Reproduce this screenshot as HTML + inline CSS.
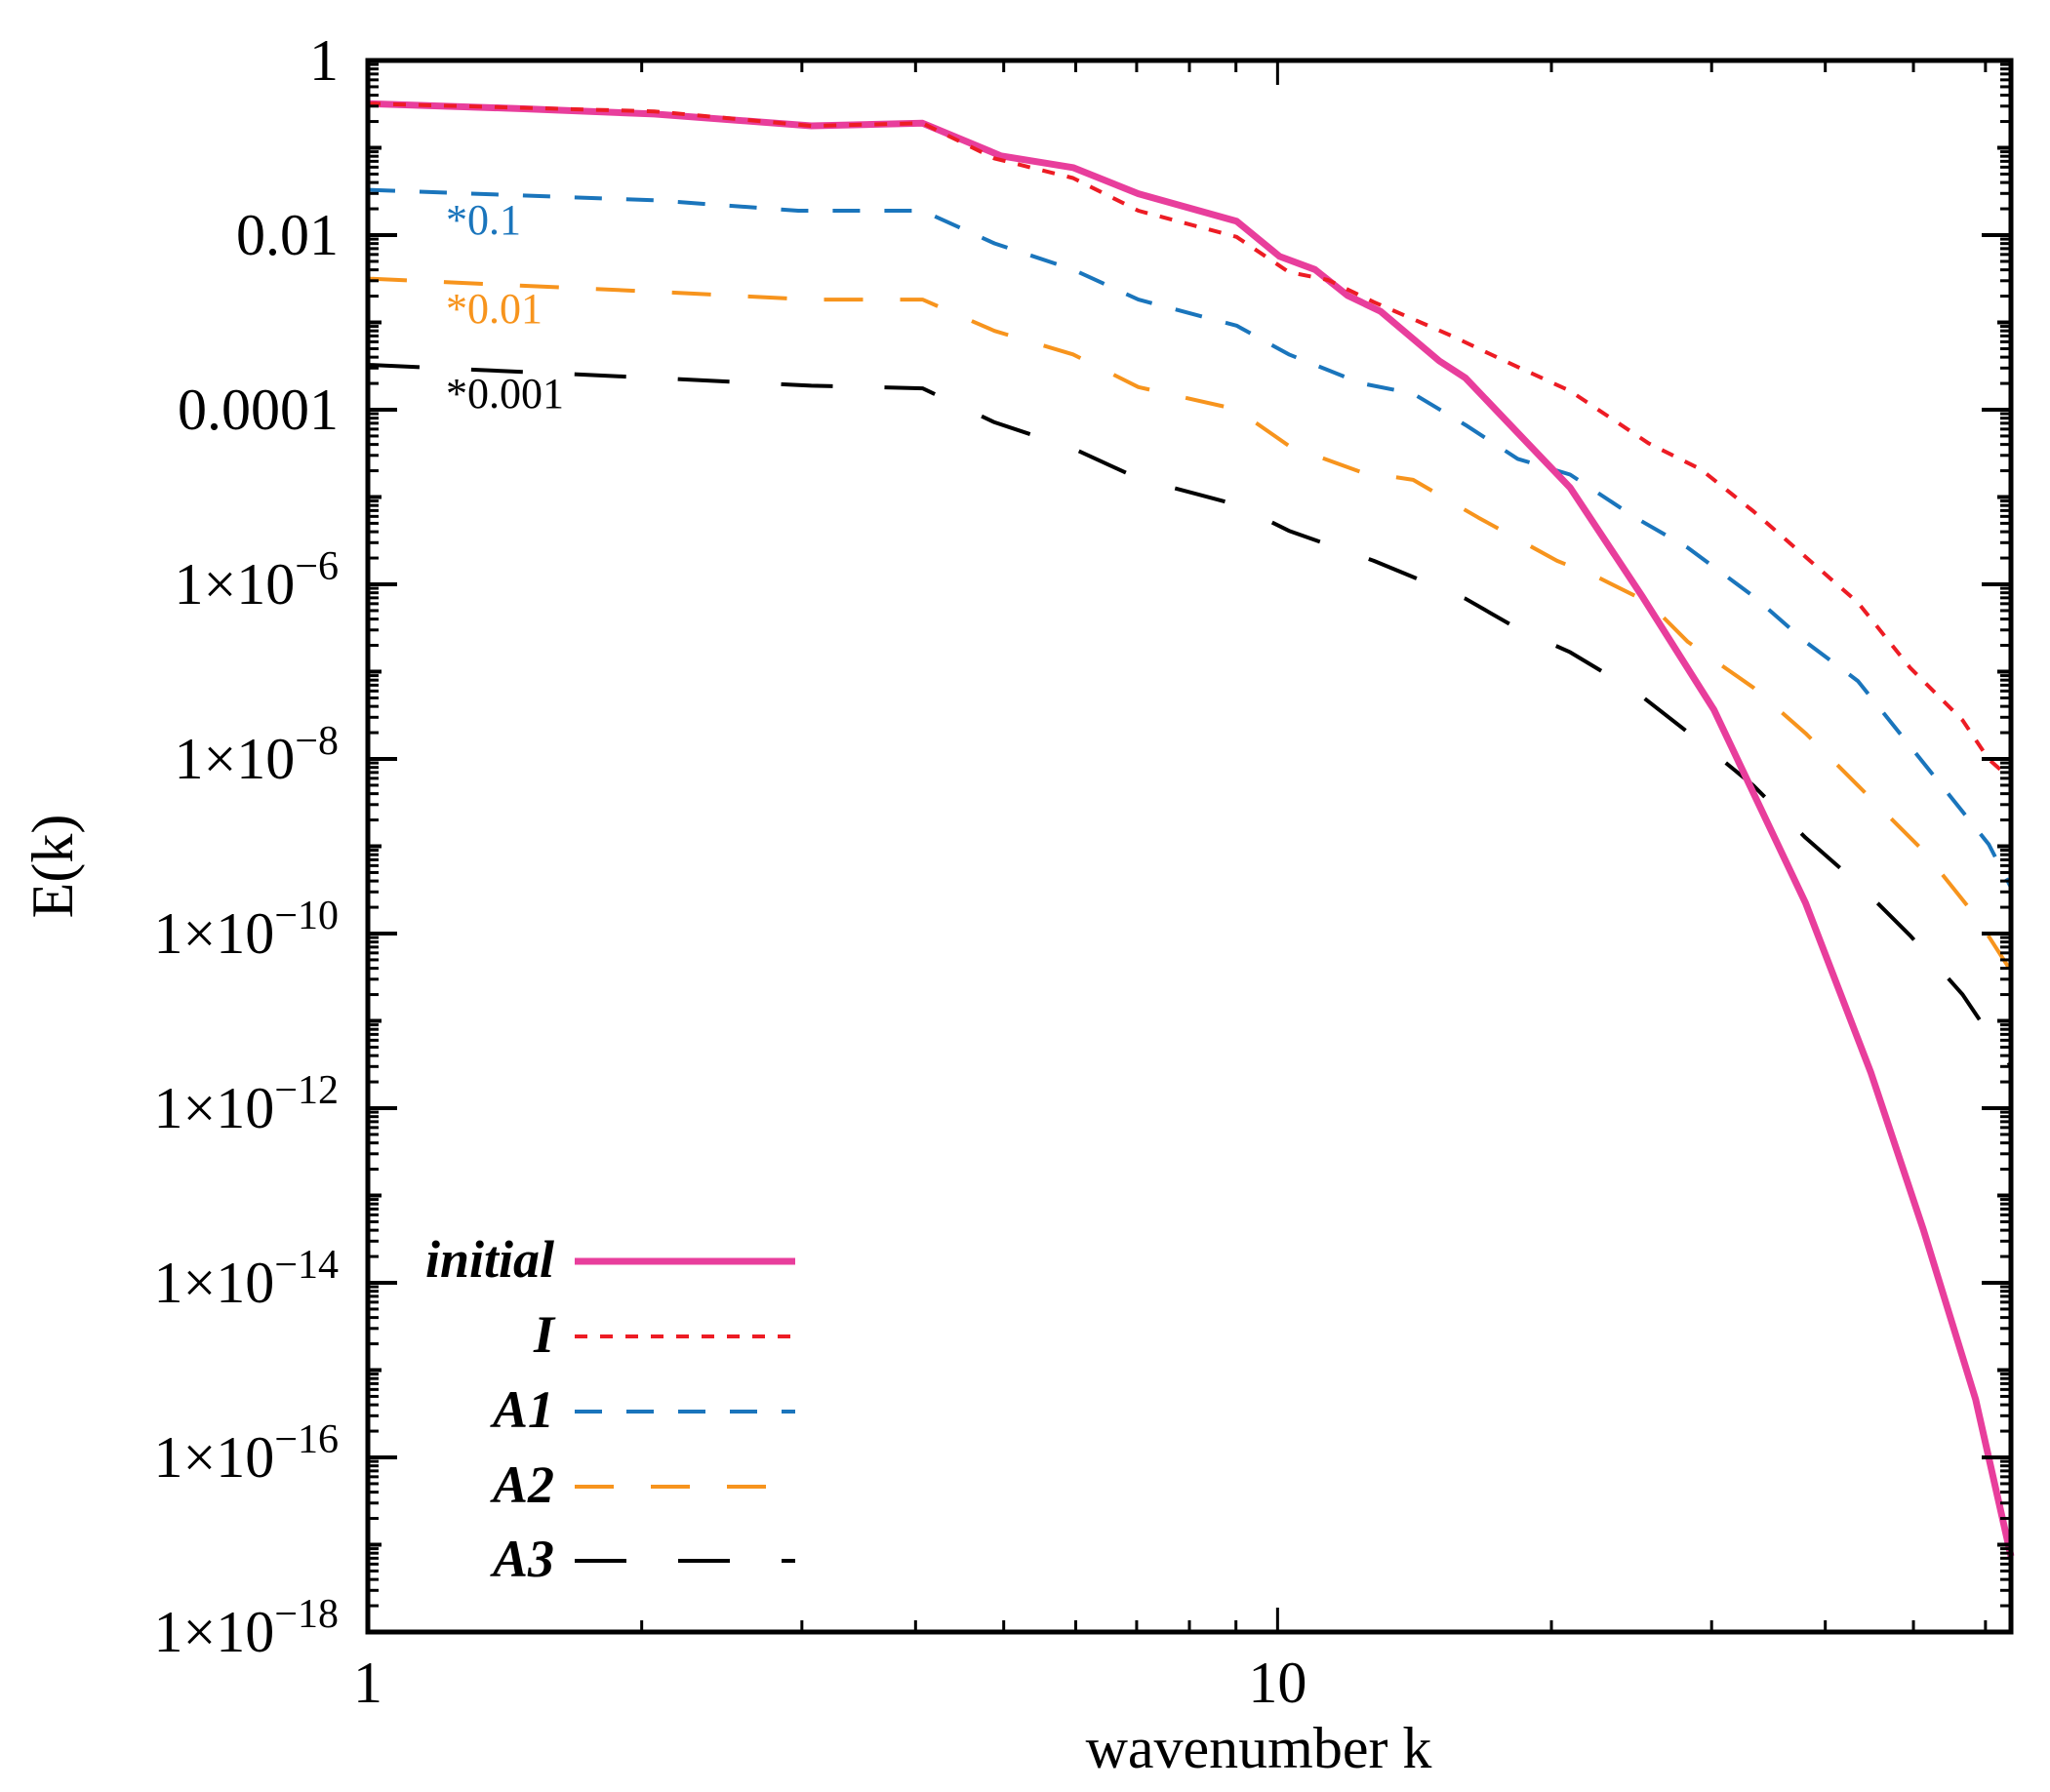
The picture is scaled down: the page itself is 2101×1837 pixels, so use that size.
<!DOCTYPE html>
<html><head><meta charset="utf-8"><style>
html,body{margin:0;padding:0;background:#fff;}
svg{display:block;font-family:"Liberation Serif",serif;}
</style></head><body>
<svg id="s" width="2101" height="1837" xmlns="http://www.w3.org/2000/svg"></svg>
<script>
const L=377,T=62,R=2061,B=1673;
const dec=(B-T)/18, kdec=(R-L)/Math.log10(64);
function X(xd){return L+(xd-281)*(R-L)/1256;}
function Y(yd){return T+(yd-45)*(B-T)/1203;}
let h='';
function pl(pts,col,w,dash){
  h+=`<polyline fill="none" stroke="${col}" stroke-width="${w}" stroke-linejoin="round" ${dash?`stroke-dasharray="${dash}"`:''} points="${pts.map(p=>X(p[0]).toFixed(1)+','+Y(p[1]).toFixed(1)).join(' ')}"/>`;
}
const blk=[[281,278],[500,288],[620,294],[705,296],[760,322],[820,342],[870,365],[945,385],[985,405],[1050,428],[1120,457],[1160,480],[1200,498],[1250,528],[1300,567],[1340,600],[1380,640],[1420,675],[1460,715],[1500,760],[1537,815]];
const org=[[281,212],[500,222],[620,228],[705,228],[760,252],[820,270],[870,295],[945,312],[985,340],[1040,360],[1080,366],[1130,395],[1190,428],[1220,440],[1260,460],[1290,490],[1340,525],[1380,560],[1420,600],[1470,650],[1510,700],[1537,742]];
const blu=[[281,144],[500,152],[610,160],[705,160],[760,185],[820,205],[870,228],[945,248],[985,270],[1040,292],[1080,300],[1120,324],[1160,350],[1200,362],[1250,395],[1290,418],[1340,455],[1380,490],[1420,520],[1460,570],[1500,620],[1520,645],[1537,678]];
const red=[[281,78],[500,84],[620,95],[705,93],[760,120],[820,135],[870,160],[945,180],[985,207],[1015,213],[1050,230],[1110,256],[1150,275],[1200,298],[1260,338],[1300,358],[1340,390],[1380,425],[1420,460],[1460,510],[1500,550],[1520,580],[1537,595]];
const mag=[[281,78],[400,82],[500,86],[620,95],[705,93],[765,118],[820,127],[870,147],[945,168],[978,195],[1005,205],[1030,225],[1055,237],[1100,275],[1120,288],[1160,330],[1200,372],[1255,455],[1310,542],[1380,690],[1430,820],[1470,940],[1510,1070],[1537,1190]];
pl(blk,'#000',4,'53 53');
pl(org,'#f7941d',4,'40 38');
pl(blu,'#1a75bc',4,'28 25');
pl(mag,'#e83e9c',7,'');
pl(red,'#ed1c24',4,'13 13');
for(let d=0;d<=18;d++){
  const y=T+d*dec, len=(d%2==0)?30:14;
  h+=`<line x1="${L}" y1="${y}" x2="${L+len}" y2="${y}" stroke="#000" stroke-width="4"/><line x1="${R}" y1="${y}" x2="${R-len}" y2="${y}" stroke="#000" stroke-width="4"/>`;
  if(d<18)for(let m=2;m<=9;m++){const yy=y+dec-Math.log10(m)*dec;
    h+=`<line x1="${L}" y1="${yy}" x2="${L+11}" y2="${yy}" stroke="#000" stroke-width="3"/><line x1="${R}" y1="${yy}" x2="${R-11}" y2="${yy}" stroke="#000" stroke-width="3"/>`;}
}
for(let k=2;k<64;k++){
  if(k>10&&k%10)continue;
  const x=L+Math.log10(k)*kdec,len=(k==10)?25:12;
  h+=`<line x1="${x}" y1="${B}" x2="${x}" y2="${B-len}" stroke="#000" stroke-width="3"/><line x1="${x}" y1="${T}" x2="${x}" y2="${T+len}" stroke="#000" stroke-width="3"/>`;
}
h+=`<rect x="${L}" y="${T}" width="${R-L}" height="${B-T}" fill="none" stroke="#000" stroke-width="5"/>`;
const fs=60;
const ylab={0:'1',2:'0.01',4:'0.0001'};
for(let d=0;d<=18;d+=2){
  const y=T+d*dec+20;
  if(ylab[d]!==undefined) h+=`<text x="347" y="${y}" font-size="${fs}" text-anchor="end">${ylab[d]}</text>`;
  else h+=`<text x="347" y="${y}" font-size="${fs}" text-anchor="end">1×10<tspan font-size="42" dy="-25">−${d}</tspan></text>`;
}
h+=`<text x="${L}" y="1745" font-size="${fs}" text-anchor="middle">1</text>`;
h+=`<text x="${L+kdec}" y="1745" font-size="${fs}" text-anchor="middle">10</text>`;
h+=`<text x="1290" y="1812" font-size="${fs}" text-anchor="middle">wavenumber k</text>`;
h+=`<text transform="translate(74,888) rotate(-90)" font-size="${fs}" text-anchor="middle">E(k)</text>`;
h+=`<text x="457" y="240" font-size="44" fill="#1a75bc">*0.1</text>`;
h+=`<text x="457" y="331" font-size="44" fill="#f7941d">*0.01</text>`;
h+=`<text x="457" y="418" font-size="44" fill="#000">*0.001</text>`;
const lg=[['initial','#e83e9c',7,'',1293],['I','#ed1c24',4,'13 13',1370],['A1','#1a75bc',4,'28 25',1447],['A2','#f7941d',4,'40 38',1524],['A3','#000',4,'53 53',1600]];
for(const [t,c,w,d,y] of lg){
  h+=`<text x="568" y="${y+16}" font-size="54" font-style="italic" font-weight="bold" text-anchor="end">${t}</text>`;
  h+=`<line x1="589" y1="${y}" x2="815" y2="${y}" stroke="${c}" stroke-width="${w}" ${d?`stroke-dasharray="${d}"`:''}/>`;
}
document.getElementById('s').innerHTML=h;
</script>
</body></html>
